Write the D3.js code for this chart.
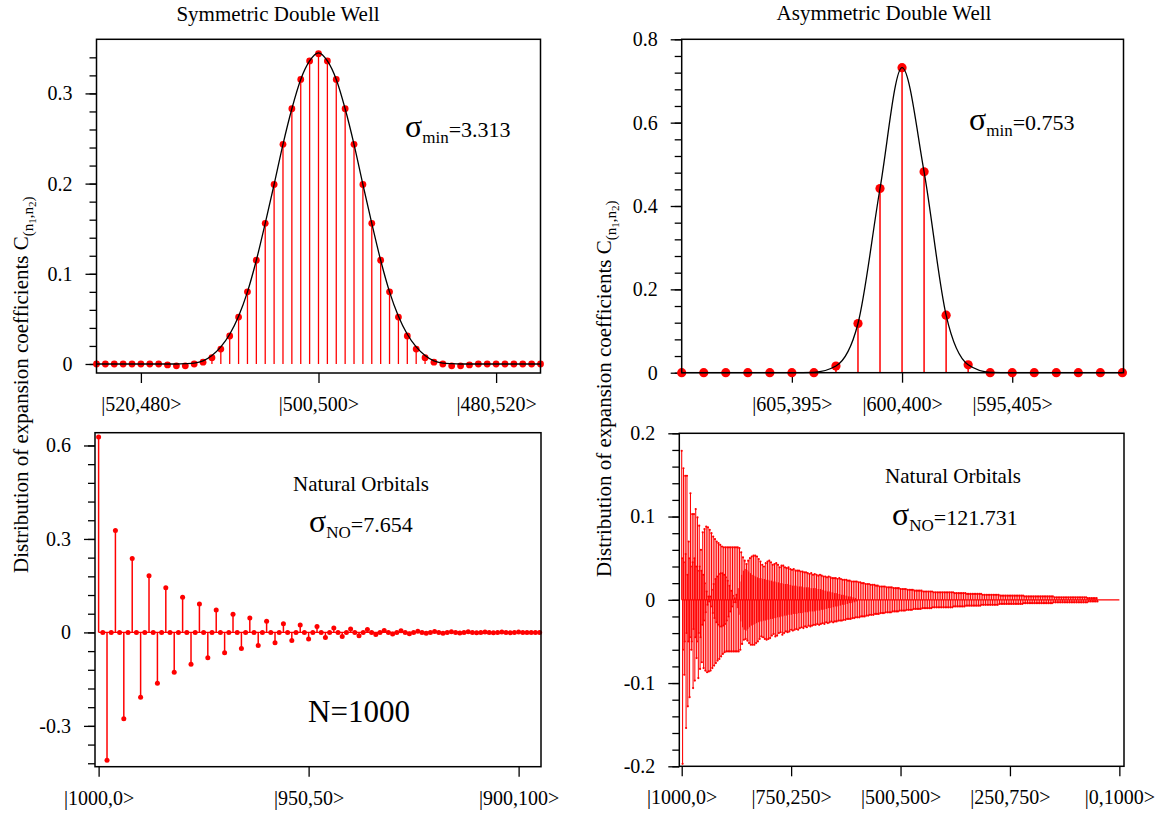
<!DOCTYPE html>
<html>
<head>
<meta charset="utf-8">
<script src="https://cdn.jsdelivr.net/npm/d3@7"></script>
<style>
	body { margin: 0; background: #fff; }
	svg { font-family: 'Liberation Serif', 'Times New Roman', serif; }
</style>
</head>
<body>
<svg id="chart" width="1163" height="816"></svg>
<script>
// ---- symmetric double well: coefficients k = -25 .. 25 around |500,500>
const symCoef = [
	0, 0, 0, 0, 0, 0, 0, 0, -0.001, -0.002,
	-0.002, 0, 0.002, 0.007, 0.0165, 0.031, 0.052, 0.08, 0.115, 0.156,
	0.199, 0.2435, 0.283, 0.3155, 0.336, 0.344, 0.336, 0.3155, 0.283, 0.2435,
	0.199, 0.156, 0.115, 0.08, 0.052, 0.031, 0.0165, 0.007, 0.002, 0,
	-0.002, -0.002, -0.001, 0, 0, 0, 0, 0, 0, 0, 0
];
const symCurve = [
	0, 0, 0, 0, 0, 0, 0, 0, 0, 0,
	0.0003, 0.001, 0.0035, 0.0095, 0.019, 0.033, 0.053, 0.08, 0.115, 0.156,
	0.199, 0.2435, 0.283, 0.3155, 0.336, 0.345, 0.336, 0.3155, 0.283, 0.2435,
	0.199, 0.156, 0.115, 0.08, 0.053, 0.033, 0.019, 0.0095, 0.0035, 0.001,
	0.0003, 0, 0, 0, 0, 0, 0, 0, 0, 0, 0
];
const symTicks = [-20, 0, 20];
const symTickLabels = ['|520,480>', '|500,500>', '|480,520>'];

// ---- asymmetric double well: 21 states, index 10 = |600,400>
const asymCoef = [0, 0, 0, 0, 0, 0, 0, 0.016, 0.118, 0.442, 0.732, 0.482, 0.138, 0.019, 0, 0, 0, 0, 0, 0, 0];
const asymCurve = [0, 0, 0, 0, 0, 0, 0.001, 0.016, 0.118, 0.442, 0.732, 0.482, 0.138, 0.019, 0.001, 0, 0, 0, 0, 0, 0];
const asymTicks = [5, 10, 15];
const asymTickLabels = ['|605,395>', '|600,400>', '|595,405>'];

// ---- natural orbitals, symmetric well, states 0 .. 105
const noSymCoef = [
	0.627, 0, -0.41, 0, 0.327, 0, -0.277, 0, 0.237, 0,
	-0.208, 0, 0.182, 0, -0.163, 0, 0.143, 0, -0.128, 0,
	0.113, 0, -0.102, 0, 0.091, 0, -0.081, 0, 0.072, 0,
	-0.065, 0, 0.058, 0, -0.052, 0, 0.046, 0, -0.042, 0,
	0.036, 0, -0.033, 0, 0.028, 0, -0.026, 0, 0.024, 0,
	-0.021, 0, 0.019, 0, -0.016, 0, 0.014, 0, -0.013, 0,
	0.011, 0, -0.011, 0, 0.009, 0, -0.007, 0, 0.006, 0,
	-0.005, 0, 0.005, 0, -0.004, 0, 0.004, 0, -0.003, 0,
	0.003, 0, -0.003, 0, 0.002, 0, -0.002, 0, 0.002, 0,
	-0.001, 0, 0.001, 0, -0.001, 0, 0.001, 0, -0.001, 0,
	0.001, 0, 0, 0, 0, 0
];
const noSymTicks = [0, 50, 100];
const noSymTickLabels = ['|1000,0>', '|950,50>', '|900,100>'];

// ---- natural orbitals, asymmetric well: even states 0, 2, .. 950
const noAsymEven = [
	0.179, -0.197, 0.158, -0.09, 0.149, -0.154, 0.149, -0.128, 0.07, -0.117,
	0.128, -0.06, 0.103, -0.106, 0.103, -0.097, 0.109, -0.07, 0.099, -0.094,
	0.089, -0.083, 0.06, -0.075, 0.081, -0.082, 0.085, -0.085, 0.088, -0.087,
	0.087, -0.086, 0.084, -0.085, 0.080, -0.082, 0.076, -0.079, 0.073, -0.076,
	0.070, -0.073, 0.068, -0.071, 0.066, -0.068, 0.064, -0.065, 0.063, -0.063,
	0.063, -0.062, 0.063, -0.062, 0.063, -0.062, 0.063, -0.062, 0.063, -0.062,
	0.063, -0.062, 0.063, -0.062, 0.063, -0.062, 0.062, -0.060, 0.057, -0.053,
	0.051, -0.048, 0.047, -0.047, 0.043, -0.049, 0.047, -0.052, 0.050, -0.054,
	0.052, -0.054, 0.053, -0.054, 0.053, -0.052, 0.052, -0.050, 0.049, -0.047,
	0.046, -0.044, 0.042, -0.045, 0.040, -0.047, 0.044, -0.048, 0.046, -0.047,
	0.047, -0.046, 0.045, -0.043, 0.042, -0.041, 0.043, -0.044, 0.044, -0.043,
	0.042, -0.040, 0.039, -0.039, 0.041, -0.042, 0.041, -0.040, 0.039, -0.038,
	0.038, -0.039, 0.039, -0.038, 0.037, -0.036, 0.036, -0.037, 0.037, -0.036,
	0.035, -0.035, 0.035, -0.036, 0.035, -0.034, 0.034, -0.033, 0.034, -0.034,
	0.033, -0.032, 0.033, -0.033, 0.032, -0.031, 0.031, -0.032, 0.032, -0.031,
	0.030, -0.030, 0.031, -0.030, 0.030, -0.029, 0.029, -0.030, 0.030, -0.029,
	0.029, -0.028, 0.028, -0.029, 0.028, -0.027, 0.027, -0.028, 0.028, -0.027,
	0.027, -0.026, 0.026, -0.027, 0.026, -0.026, 0.026, -0.026, 0.025, -0.025,
	0.026, -0.025, 0.025, -0.025, 0.024, -0.024, 0.024, -0.024, 0.024, -0.023,
	0.023, -0.023, 0.023, -0.023, 0.022, -0.022, 0.022, -0.022, 0.022, -0.021,
	0.022, -0.021, 0.021, -0.021, 0.021, -0.020, 0.020, -0.020, 0.020, -0.020,
	0.019, -0.019, 0.019, -0.019, 0.019, -0.018, 0.018, -0.018, 0.018, -0.018,
	0.018, -0.017, 0.017, -0.017, 0.017, -0.017, 0.016, -0.016, 0.016, -0.016,
	0.016, -0.016, 0.016, -0.015, 0.015, -0.015, 0.015, -0.015, 0.015, -0.015,
	0.015, -0.014, 0.014, -0.014, 0.014, -0.014, 0.014, -0.014, 0.014, -0.013,
	0.013, -0.013, 0.013, -0.013, 0.013, -0.013, 0.013, -0.012, 0.012, -0.012,
	0.012, -0.012, 0.012, -0.012, 0.012, -0.011, 0.011, -0.011, 0.011, -0.011,
	0.011, -0.011, 0.011, -0.011, 0.011, -0.010, 0.010, -0.010, 0.010, -0.010,
	0.010, -0.010, 0.010, -0.010, 0.010, -0.010, 0.010, -0.009, 0.009, -0.009,
	0.009, -0.009, 0.009, -0.009, 0.009, -0.009, 0.009, -0.009, 0.009, -0.009,
	0.009, -0.009, 0.009, -0.009, 0.009, -0.009, 0.009, -0.009, 0.009, -0.009,
	0.009, -0.008, 0.008, -0.008, 0.008, -0.008, 0.008, -0.008, 0.008, -0.008,
	0.008, -0.008, 0.008, -0.008, 0.008, -0.007, 0.007, -0.007, 0.007, -0.007,
	0.007, -0.007, 0.007, -0.007, 0.007, -0.007, 0.007, -0.007, 0.007, -0.007,
	0.007, -0.007, 0.007, -0.006, 0.006, -0.006, 0.006, -0.006, 0.006, -0.006,
	0.006, -0.006, 0.006, -0.006, 0.006, -0.006, 0.006, -0.006, 0.006, -0.006,
	0.006, -0.006, 0.006, -0.005, 0.005, -0.005, 0.005, -0.005, 0.005, -0.005,
	0.005, -0.005, 0.005, -0.005, 0.005, -0.005, 0.005, -0.005, 0.005, -0.005,
	0.005, -0.005, 0.005, -0.005, 0.005, -0.005, 0.005, -0.005, 0.005, -0.005,
	0.005, -0.004, 0.004, -0.004, 0.004, -0.004, 0.004, -0.004, 0.004, -0.004,
	0.004, -0.004, 0.004, -0.004, 0.004, -0.004, 0.004, -0.004, 0.004, -0.004,
	0.004, -0.004, 0.004, -0.004, 0.004, -0.004, 0.004, -0.004, 0.004, -0.004,
	0.004, -0.004, 0.004, -0.004, 0.004, -0.003, 0.003, -0.003, 0.003, -0.003,
	0.003, -0.003, 0.003, -0.003, 0.003, -0.003, 0.003, -0.003, 0.003, -0.003,
	0.003, -0.003, 0.003, -0.003, 0.003, -0.003, 0.003, -0.003, 0.003, -0.003,
	0.003, -0.003, 0.003, -0.003, 0.003, -0.003, 0.003, -0.003, 0.003, -0.003,
	0.003, -0.003, 0.003, -0.003, 0.002, -0.002, 0.002, -0.002, 0.002, -0.002,
	0.002, -0.002, 0.002, -0.002, 0.002, -0.002
];
// odd states 1, 3, .. 399 (inner structure near zero)
const noAsymOdd = [
	0.05, -0.06, 0.045, -0.05, 0.055, -0.04, 0.03, -0.05, 0.05, -0.045,
	0.04, -0.05, 0.045, -0.035, 0.05, -0.045, 0.04, -0.05, 0.035, -0.04,
	0.04, -0.045, 0.035, -0.03, 0.03, -0.025, 0.02, -0.015, 0.01, -0.006,
	0.004, -0.002, 0.004, -0.008, 0.012, -0.016, 0.019, -0.022, 0.025, -0.027,
	0.028, -0.030, 0.031, -0.032, 0.032, -0.032, 0.032, -0.031, 0.030, -0.029,
	0.027, -0.025, 0.023, -0.020, 0.017, -0.014, 0.011, -0.008, 0.005, -0.003,
	0.002, -0.003, 0.006, -0.010, 0.014, -0.018, 0.022, -0.026, 0.030, -0.033,
	0.035, -0.036, 0.037, -0.037, 0.036, -0.035, 0.034, -0.033, 0.032, -0.031,
	0.030, -0.030, 0.029, -0.029, 0.028, -0.028, 0.027, -0.027, 0.026, -0.026,
	0.026, -0.026, 0.025, -0.025, 0.025, -0.025, 0.024, -0.024, 0.024, -0.024,
	0.023, -0.023, 0.023, -0.023, 0.022, -0.022, 0.022, -0.022, 0.021, -0.021,
	0.021, -0.021, 0.020, -0.020, 0.020, -0.020, 0.019, -0.019, 0.019, -0.019,
	0.019, -0.018, 0.018, -0.018, 0.018, -0.018, 0.017, -0.017, 0.017, -0.017,
	0.017, -0.017, 0.016, -0.016, 0.016, -0.016, 0.016, -0.016, 0.015, -0.015,
	0.015, -0.015, 0.015, -0.015, 0.015, -0.014, 0.014, -0.014, 0.014, -0.014,
	0.014, -0.014, 0.014, -0.013, 0.013, -0.013, 0.013, -0.013, 0.013, -0.012,
	0.012, -0.012, 0.011, -0.011, 0.011, -0.011, 0.010, -0.010, 0.010, -0.010,
	0.009, -0.009, 0.009, -0.009, 0.008, -0.008, 0.008, -0.008, 0.007, -0.007,
	0.007, -0.007, 0.006, -0.006, 0.006, -0.006, 0.005, -0.005, 0.005, -0.005,
	0.004, -0.004, 0.004, -0.004, 0.003, -0.003, 0.003, -0.003, 0.002, -0.002
];
// markers on the odd states only up to the end of the "eye"
const noAsymOddMarkedUpTo = 125;
const noAsymTicks = [0, 250, 500, 750, 1000];
const noAsymTickLabels = ['|1000,0>', '|750,250>', '|500,500>', '|250,750>', '|0,1000>'];

const RED = '#ff0000';
const svg = d3.select('#chart');

// frame + axes for one panel
function panel({left, right, top, bottom, xDomain, yDomain, yMajor, yMinor, xTicks, xLabels}) {
	let x = d3.scaleLinear().domain(xDomain).range([left, right]);
	let y = d3.scaleLinear().domain(yDomain).range([bottom, top]);
	let g = svg.append('g');

	let minor = g.append('g')
		.attr('transform', `translate(${left},0)`)
		.call(d3.axisLeft(y).tickValues(yMinor).tickSize(7).tickFormat(''));

	let major = g.append('g')
		.attr('transform', `translate(${left},0)`)
		.call(d3.axisLeft(y).tickValues(yMajor).tickSize(11).tickPadding(13).tickFormat(d => String(d)));

	let xa = g.append('g')
		.attr('transform', `translate(0,${bottom})`)
		.call(d3.axisBottom(x).tickValues(xTicks).tickSize(10).tickPadding(14).tickFormat((d, i) => xLabels[i]));

	[minor, major, xa].forEach(a => {
		a.select('.domain').remove();
		a.attr('font-family', null).attr('font-size', 20);
		a.selectAll('line').attr('stroke', '#000').attr('stroke-width', 1.3);
		a.selectAll('text').attr('fill', '#000');
	});

	let plot = g.append('g');

	g.append('rect')
		.attr('x', left).attr('y', top)
		.attr('width', right - left).attr('height', bottom - top)
		.attr('fill', 'none')
		.attr('stroke', '#000')
		.attr('stroke-width', 1.5);

	return {x, y, plot};
}

function stems(p, xs, vals, width, r, markUpTo = Infinity) {
	p.plot.append('g').selectAll('line')
		.data(vals)
		.enter()
		.append('line')
		.attr('x1', (d, i) => p.x(xs[i]))
		.attr('x2', (d, i) => p.x(xs[i]))
		.attr('y1', p.y(0))
		.attr('y2', d => p.y(d))
		.attr('stroke', RED)
		.attr('stroke-width', width);

	p.plot.append('g').selectAll('circle')
		.data(vals.filter((d, i) => xs[i] <= markUpTo))
		.enter()
		.append('circle')
		.attr('cx', (d, i) => p.x(xs[i]))
		.attr('cy', d => p.y(d))
		.attr('r', r)
		.attr('fill', RED);
}

function curve(p, xs, vals) {
	let line = d3.line()
		.x((d, i) => p.x(xs[i]))
		.y(d => p.y(d))
		.curve(d3.curveMonotoneX);
	p.plot.append('path')
		.attr('d', line(vals))
		.attr('fill', 'none')
		.attr('stroke', '#000')
		.attr('stroke-width', 1.3);
}

function sigmaText(x, y, sub, val) {
	let t = svg.append('text').attr('x', x).attr('y', y).attr('font-size', 22);
	t.append('tspan').attr('font-size', 32).text('σ');
	t.append('tspan').attr('font-size', 17).attr('dy', 6).text(sub);
	t.append('tspan').attr('dy', -6).text('=' + val);
}

function yLabel(tx, ty) {
	let t = svg.append('text')
		.attr('transform', `translate(${tx},${ty}) rotate(-90)`)
		.attr('font-size', 21);
	t.append('tspan').text('Distribution of expansion coefficients C');
	t.append('tspan').attr('font-size', 15).attr('dy', 5).text('(n');
	t.append('tspan').attr('font-size', 11).attr('dy', 3).text('1');
	t.append('tspan').attr('font-size', 15).attr('dy', -3).text(',n');
	t.append('tspan').attr('font-size', 11).attr('dy', 3).text('2');
	t.append('tspan').attr('font-size', 15).attr('dy', -3).text(')');
}

// ---- top left
let symX = symCoef.map((d, i) => i - 25);
let p1 = panel({
	left: 96.5, right: 540.5, top: 39.3, bottom: 373,
	xDomain: [-25, 25], yDomain: [-0.01, 0.36],
	yMajor: [0, 0.1, 0.2, 0.3], yMinor: d3.range(0, 18).map(i => i * 0.02),
	xTicks: symTicks, xLabels: symTickLabels
});
stems(p1, symX, symCoef, 1.3, 3.4);
curve(p1, symX, symCurve);

// ---- top right
let asymX = asymCoef.map((d, i) => i);
let p2 = panel({
	left: 681.7, right: 1123.5, top: 39.3, bottom: 372.7,
	xDomain: [0, 20.05], yDomain: [0, 0.8],
	yMajor: [0, 0.2, 0.4, 0.6, 0.8], yMinor: d3.range(0, 21).map(i => i * 0.04),
	xTicks: asymTicks, xLabels: asymTickLabels
});
stems(p2, asymX, asymCoef, 1.5, 4.6);
curve(p2, asymX, asymCurve);

// ---- bottom left
let noSymX = noSymCoef.map((d, i) => i);
let p3 = panel({
	left: 95, right: 541, top: 432.7, bottom: 766.7,
	xDomain: [-0.86, 105.33], yDomain: [-0.431, 0.641],
	yMajor: [-0.3, 0, 0.3, 0.6], yMinor: d3.range(0, 18).map(i => -0.42 + i * 0.06),
	xTicks: noSymTicks, xLabels: noSymTickLabels
});
p3.plot.append('line')
	.attr('x1', p3.x(0)).attr('x2', p3.x(noSymX[noSymX.length - 1]))
	.attr('y1', p3.y(0)).attr('y2', p3.y(0))
	.attr('stroke', RED).attr('stroke-width', 1.4);
stems(p3, noSymX, noSymCoef, 1.5, 2.5);

// ---- bottom right
let evenX = noAsymEven.map((d, i) => 2 * i);
let oddX = noAsymOdd.map((d, i) => 2 * i + 1);
let p4 = panel({
	left: 679.3, right: 1124, top: 433.3, bottom: 766.3,
	xDomain: [-5.5, 1010.6], yDomain: [-0.2, 0.2],
	yMajor: [-0.2, -0.1, 0, 0.1, 0.2], yMinor: d3.range(0, 21).map(i => -0.2 + i * 0.02),
	xTicks: noAsymTicks, xLabels: noAsymTickLabels
});
p4.plot.append('line')
	.attr('x1', p4.x(0)).attr('x2', p4.x(1000))
	.attr('y1', p4.y(0)).attr('y2', p4.y(0))
	.attr('stroke', RED).attr('stroke-width', 1.3);
stems(p4, evenX, noAsymEven, 1.05, 1.1);
stems(p4, oddX, noAsymOdd, 1.0, 1.0, noAsymOddMarkedUpTo);

// ---- text
svg.append('text').attr('x', 278).attr('y', 21).attr('font-size', 21)
	.attr('text-anchor', 'middle').text('Symmetric Double Well');
svg.append('text').attr('x', 884).attr('y', 20).attr('font-size', 21)
	.attr('text-anchor', 'middle').text('Asymmetric Double Well');

yLabel(28, 573);
yLabel(611, 577);

sigmaText(405, 137, 'min', '3.313');
sigmaText(969, 130, 'min', '0.753');

svg.append('text').attr('x', 361).attr('y', 491).attr('font-size', 21)
	.attr('text-anchor', 'middle').text('Natural Orbitals');
sigmaText(309, 532, 'NO', '7.654');
svg.append('text').attr('x', 359).attr('y', 722).attr('font-size', 31)
	.attr('text-anchor', 'middle').text('N=1000');

svg.append('text').attr('x', 953).attr('y', 483).attr('font-size', 21)
	.attr('text-anchor', 'middle').text('Natural Orbitals');
sigmaText(892, 525, 'NO', '121.731');
</script>
</body>
</html>
